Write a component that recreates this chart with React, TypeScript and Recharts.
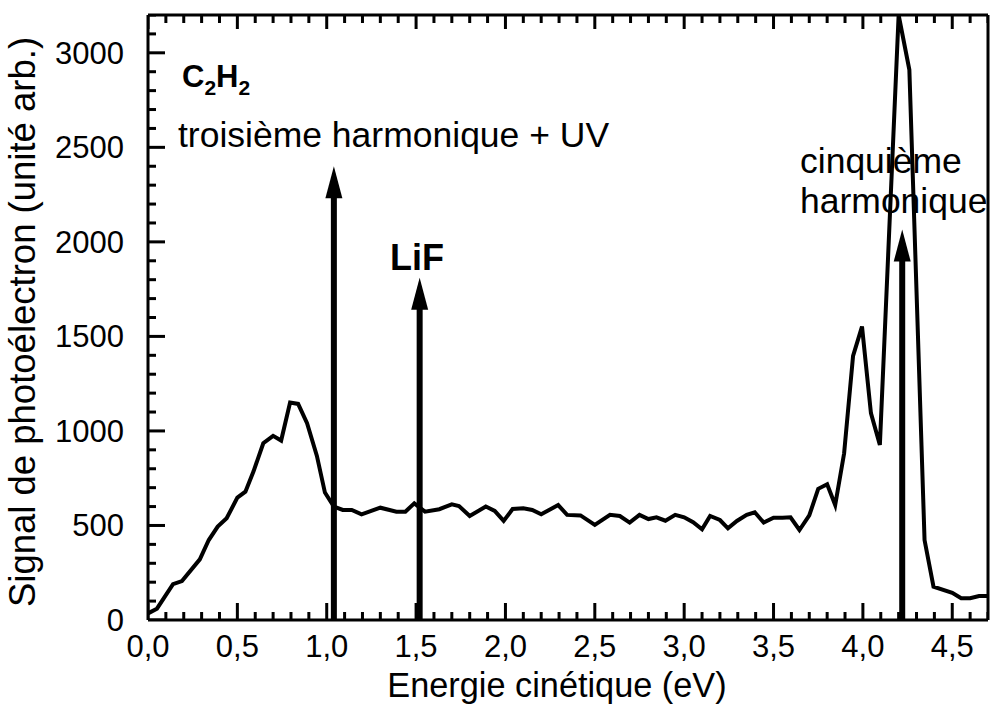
import React from "react";
import { ComposedChart, Line, Scatter, XAxis, YAxis, ReferenceLine, Customized } from "recharts";

// photoelectron spectrum of C2H2, energy in eV / signal in arbitrary units
const energy = [
  0.0, 0.05, 0.14, 0.19, 0.29, 0.34, 0.39, 0.44, 0.5, 0.545,
  0.59, 0.645, 0.7, 0.745, 0.795, 0.84, 0.89, 0.945, 0.99, 1.04,
  1.09, 1.14, 1.195, 1.3, 1.39, 1.44, 1.49, 1.55, 1.63, 1.7,
  1.74, 1.8, 1.89, 1.94, 1.99, 2.04, 2.1, 2.15, 2.2, 2.295,
  2.345, 2.42, 2.5, 2.585, 2.64, 2.695, 2.75, 2.8, 2.845, 2.895,
  2.95, 3.0, 3.05, 3.1, 3.145, 3.2, 3.245, 3.295, 3.35, 3.395,
  3.445, 3.5, 3.55, 3.595, 3.645, 3.7, 3.75, 3.8, 3.845, 3.895,
  3.945, 3.995, 4.045, 4.095, 4.2, 4.26, 4.345, 4.395, 4.5, 4.55,
  4.6, 4.65, 4.7,
];
const signal = [
  35, 60, 190, 206, 321, 423, 494, 538, 647, 679,
  785, 935, 974, 949, 1150, 1143, 1041, 868, 674, 600,
  582, 582, 559, 594, 573, 573, 617, 573, 586, 612,
  603, 550, 600, 577, 524, 587, 591, 582, 559, 608,
  556, 553, 503, 556, 550, 515, 556, 534, 543, 525,
  556, 543, 517, 480, 550, 529, 485, 524, 556, 570,
  515, 541, 541, 543, 476, 553, 694, 718, 608, 882,
  1397, 1552, 1094, 926, 3200, 2910, 423, 176, 144, 115,
  115, 127, 127,
];

// arrows marking the photon energies
const arrowPos = [1.04, 1.52, 4.22];
const arrowTop = [2400, 1810, 2065];

const X_MAX = 4.7;
const Y_MAX = 3200;
const xMajor = [0, 0.5, 1, 1.5, 2, 2.5, 3, 3.5, 4, 4.5];
const yMajor = [0, 500, 1000, 1500, 2000, 2500, 3000];
const xMinor = Array.from({ length: 48 }, (_, i) => +(i * 0.1).toFixed(1));
const yMinor = Array.from({ length: 33 }, (_, i) => i * 100);

const isMajor = (v: number, list: number[]) => list.some((m) => Math.abs(m - v) < 1e-6);

const data = energy.map((e, i) => ({ e, s: signal[i] }));
// anchor points for the inward tick marks on the frame
const bottomTicks = xMinor.map((v) => ({ e: v, s: 0, major: isMajor(v, xMajor) }));
const topTicks = xMinor.map((v) => ({ e: v, s: Y_MAX, major: isMajor(v, xMajor) }));
const leftTicks = yMinor.map((v) => ({ e: 0, s: v, major: isMajor(v, yMajor) }));

const FONT = "'Liberation Sans', Arial, Helvetica, sans-serif";
const W = 990;
const H = 713;

const XLabel = (props: any) => {
  const { x, y, payload } = props;
  return (
    <text x={x} y={y + 37} textAnchor="middle" fontSize={31} fontFamily={FONT} fill="#000">
      {payload.value.toFixed(1).replace(".", ",")}
    </text>
  );
};

const YLabel = (props: any) => {
  const { x, y, payload } = props;
  return (
    <text x={x - 24} y={y + 11} textAnchor="end" fontSize={31} fontFamily={FONT} fill="#000">
      {payload.value}
    </text>
  );
};

function BottomMark(props: any) {
  const { cx, cy, payload } = props;
  const len = payload.major ? 17 : 8;
  return <rect x={cx - 1.5} y={cy - len} width={3} height={len} fill="#000" />;
}
function TopMark(props: any) {
  const { cx, cy, payload } = props;
  const len = payload.major ? 14 : 8;
  return <rect x={cx - 1.5} y={cy} width={3} height={len} fill="#000" />;
}
function LeftMark(props: any) {
  const { cx, cy, payload } = props;
  const len = payload.major ? 17 : 8;
  return <rect x={cx} y={cy - 1.5} width={len} height={3} fill="#000" />;
}

function Arrow(props: any) {
  const { x1, y1, y2 } = props;
  const tip = Math.min(y1, y2);
  const base = Math.max(y1, y2);
  return (
    <g>
      <line x1={x1} x2={x1} y1={base} y2={tip + 28} stroke="#000" strokeWidth={6} />
      <polygon points={`${x1 - 8.5},${tip + 32} ${x1 + 8.5},${tip + 32} ${x1},${tip}`} fill="#000" />
    </g>
  );
}

const Annotations = () => (
  <g fontFamily={FONT} fill="#000">
    <text x={182} y={87} fontSize={31} fontWeight="bold">
      C<tspan fontSize={21} dy={8}>2</tspan>
      <tspan dy={-8}>H</tspan>
      <tspan fontSize={21} dy={8}>2</tspan>
    </text>
    <text x={178} y={147} fontSize={35.5}>troisième harmonique + UV</text>
    <text x={390} y={270} fontSize={36} fontWeight="bold">LiF</text>
    <rect x={798} y={138} width={168} height={42} fill="#fff" />
    <rect x={798} y={188} width={194} height={32} fill="#fff" />
    <text x={800} y={173} fontSize={35.5}>cinquième</text>
    <text x={800} y={213} fontSize={35.5}>harmonique</text>
    <text x={557} y={697} fontSize={34.3} textAnchor="middle">Energie cinétique (eV)</text>
    <text x={35} y={322} fontSize={36.5} textAnchor="middle" transform="rotate(-90 35 322)">
      Signal de photoélectron (unité arb.)
    </text>
  </g>
);

export default function App() {
  return (
    <div style={{ position: "absolute", left: 0, top: 0, width: W, height: H, background: "#fff" }}>
      <ComposedChart width={W} height={H} data={data} margin={{ top: 15, right: 2, bottom: 0, left: 0 }}>
        <XAxis
          dataKey="e"
          type="number"
          domain={[0, X_MAX]}
          ticks={xMajor}
          interval={0}
          height={93}
          tickSize={0}
          tickMargin={0}
          tick={<XLabel />}
          axisLine={false}
          allowDataOverflow
        />
        <YAxis
          dataKey="s"
          type="number"
          domain={[0, Y_MAX]}
          ticks={yMajor}
          interval={0}
          width={148}
          tickSize={0}
          tickMargin={0}
          tick={<YLabel />}
          axisLine={false}
          allowDataOverflow
        />
        <Line
          type="linear"
          dataKey="s"
          stroke="#000"
          strokeWidth={4}
          dot={false}
          isAnimationActive={false}
        />
        <Scatter data={bottomTicks} dataKey="s" shape={BottomMark} isAnimationActive={false} />
        <Scatter data={topTicks} dataKey="s" shape={TopMark} isAnimationActive={false} />
        <Scatter data={leftTicks} dataKey="s" shape={LeftMark} isAnimationActive={false} />
        <ReferenceLine x={0} stroke="#000" strokeWidth={3} />
        <ReferenceLine x={X_MAX} stroke="#000" strokeWidth={3} />
        <ReferenceLine y={0} stroke="#000" strokeWidth={3} />
        <ReferenceLine y={Y_MAX} stroke="#000" strokeWidth={3} />
        {arrowPos.map((p, i) => (
          <ReferenceLine
            key={`a${p}`}
            segment={[{ x: p, y: 0 }, { x: p, y: arrowTop[i] }]}
            shape={Arrow}
          />
        ))}
        <Customized component={<Annotations />} />
      </ComposedChart>
    </div>
  );
}
